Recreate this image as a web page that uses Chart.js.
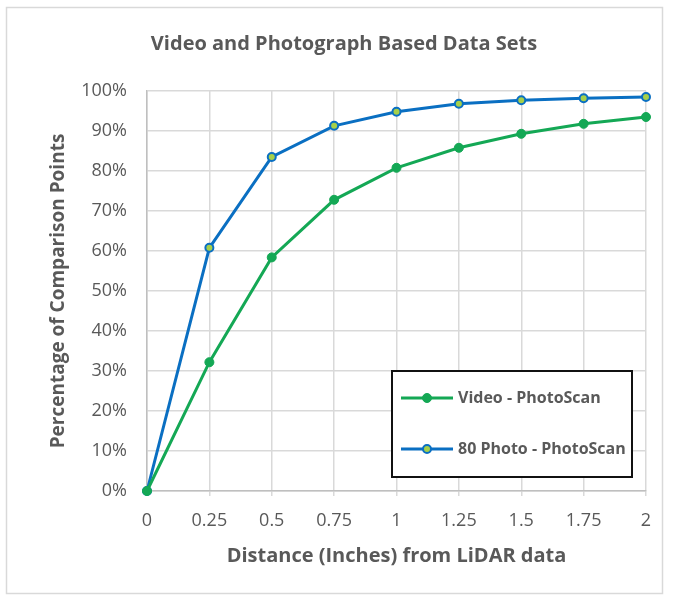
<!DOCTYPE html>
<html>
<head>
<meta charset="utf-8">
<script src="https://cdn.jsdelivr.net/npm/chart.js@4/dist/chart.umd.min.js"></script>
<style>
  html,body{margin:0;padding:0;background:#fff;}
  #wrap{width:676px;height:597px;}
</style>
</head>
<body>
<div id="wrap"><canvas id="c" width="676" height="597"></canvas></div>
<script>
// chart data
const distances=[0,0.25,0.5,0.75,1,1.25,1.5,1.75,2];
const videoPct=[0,32.2,58.4,72.8,80.8,85.8,89.3,91.8,93.5];
const photoPct=[0,60.8,83.5,91.3,94.8,96.8,97.7,98.2,98.5];
const seriesNames=['Video - PhotoScan','80 Photo - PhotoScan'];
const yTicks=[0,10,20,30,40,50,60,70,80,90,100];

const TXT='#595959';
const FONT="'Open Sans', 'Noto Sans', sans-serif";
const pts=(xs,ys)=>xs.map((x,i)=>({x:x,y:ys[i]}));

// outer frame + white background
const framePlugin={id:'frame',
  beforeDraw(chart){const c=chart.ctx;c.save();c.fillStyle='#fff';c.fillRect(0,0,chart.width,chart.height);
    c.strokeStyle='#d9d9d9';c.lineWidth=1.5;c.strokeRect(6.5,7.5,656,586);c.restore();}
};

// boxed legend drawn inside plot area (bottom right)
const boxLegend={id:'boxLegend',
  afterDraw(chart){
    const c=chart.ctx,a=chart.chartArea;
    const w=240,h=106,x=a.right-14-w,y=a.bottom-14-h;
    c.save();
    c.fillStyle='#fff';c.fillRect(x,y,w,h);
    c.strokeStyle='#111';c.lineWidth=2;c.strokeRect(x,y,w,h);
    chart.data.datasets.forEach((ds,i)=>{
      const ly=y+27+i*51;
      c.strokeStyle=ds.borderColor;c.lineWidth=3;
      c.beginPath();c.moveTo(x+9,ly);c.lineTo(x+61,ly);c.stroke();
      c.beginPath();c.arc(x+35,ly,ds.pointRadius,0,Math.PI*2);
      c.fillStyle=ds.pointBackgroundColor;c.fill();
      c.lineWidth=ds.pointBorderWidth;c.strokeStyle=ds.pointBorderColor;c.stroke();
      c.fillStyle=TXT;c.font="bold 16px "+FONT;c.textBaseline='middle';c.textAlign='left';
      c.fillText(ds.label,x+66,ly);
    });
    c.restore();
  }
};

new Chart(document.getElementById('c'),{
  type:'line',
  data:{datasets:[
    {label:seriesNames[0],data:pts(distances,videoPct),borderColor:'#14a855',backgroundColor:'#14a855',
     borderWidth:3,pointRadius:4.5,pointBackgroundColor:'#14a855',pointBorderColor:'#14a855',pointBorderWidth:1,tension:0,clip:false},
    {label:seriesNames[1],data:pts(distances,photoPct),borderColor:'#0a6fc2',backgroundColor:'#0a6fc2',
     borderWidth:3,pointRadius:4,pointBackgroundColor:'#a6d04a',pointBorderColor:'#0a6fc2',pointBorderWidth:2,tension:0,clip:false}
  ]},
  options:{responsive:false,animation:false,
    layout:{padding:{left:42,right:30,top:0,bottom:0}},
    plugins:{legend:{display:false},tooltip:{enabled:false},
      title:{display:true,text:'Video and Photograph Based Data Sets',color:TXT,
        font:{family:FONT,size:20,weight:'bold'},padding:{top:32,bottom:35}}},
    scales:{
      x:{type:'linear',min:0,max:2,
        afterBuildTicks:s=>{s.ticks=distances.map(v=>({value:v}));},
        afterFit:s=>{s.height=106;},
        grid:{color:'#d9d9d9',lineWidth:1.5,drawTicks:true,tickLength:5},
        border:{color:'#bfbfbf',width:1.5},
        ticks:{color:TXT,font:{family:FONT,size:18},padding:14,maxRotation:0,callback:v=>String(v)},
        title:{display:true,text:'Distance (Inches) from LiDAR data',color:TXT,
          font:{family:FONT,size:20,weight:'bold'},padding:{top:0,bottom:29}}},
      y:{min:0,max:100,
        afterBuildTicks:s=>{s.ticks=yTicks.map(v=>({value:v}));},
        afterFit:s=>{s.width=105;},
        grid:{color:'#d9d9d9',lineWidth:1.5,drawTicks:false},
        border:{color:'#bfbfbf',width:1.5},
        ticks:{color:TXT,font:{family:FONT,size:18},padding:20,callback:v=>v+'%'},
        title:{display:true,text:'Percentage of Comparison Points',color:TXT,
          font:{family:FONT,size:19,weight:'bold'},padding:{top:5,bottom:0}}}
    }
  },
  plugins:[framePlugin,boxLegend]
});
</script>
</body>
</html>
